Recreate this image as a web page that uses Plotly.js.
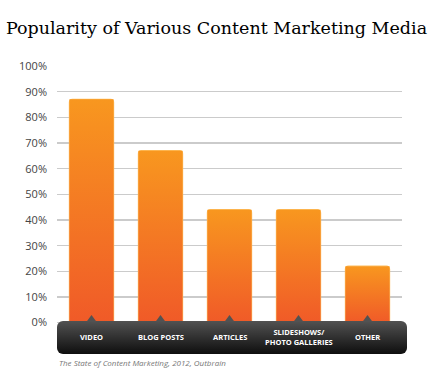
<!DOCTYPE html>
<html>
<head>
<meta charset="utf-8">
<script src="https://cdn.plot.ly/plotly-3.0.1.min.js"></script>
<style>html,body{margin:0;padding:0;background:#fff;}#chart{width:433px;height:381px;}</style>
</head>
<body>
<div id="chart"></div>
<script>
// ---- data ----
var categories = ['VIDEO', 'BLOG POSTS', 'ARTICLES', 'SLIDESHOWS/<br>PHOTO GALLERIES', 'OTHER'];
var popularity = [87, 67, 44, 44, 22];
var tickValues = [0, 10, 20, 30, 40, 50, 60, 70, 80, 90, 100];
var tickLabels = ['0%', '10%', '20%', '30%', '40%', '50%', '60%', '70%', '80%', '90%', '100%'];
var sourceText = 'The State of Content Marketing, 2012, Outbrain';
var titleText = 'Popularity of Various Content Marketing Media';

// ---- layout geometry ----
var W = 433, H = 381;
var M = {l: 57, r: 31, t: 66, b: 25};
var plotW = W - M.l - M.r, plotH = H - M.t - M.b;
function px2paperX(px) { return (px - M.l) / plotW; }
function px2paperY(py) { return (H - M.b - py) / plotH; }

var halfW = 0.32;
var idx = categories.map(function (c, i) { return i; });

var traces = [];
// gradient-filled bars
idx.forEach(function (i) {
  var v = popularity[i];
  traces.push({
    type: 'scatter', mode: 'lines',
    x: [i - halfW, i - halfW, i + halfW, i + halfW, i - halfW],
    y: [0, v, v, 0, 0],
    fill: 'toself',
    fillgradient: {type: 'vertical', colorscale: [[0, '#F05A28'], [1, '#F8971F']]},
    line: {width: 0, color: 'rgba(0,0,0,0)'},
    hoverinfo: 'skip', showlegend: false
  });
});
// outline with rounded corners
traces.push({
  type: 'bar', x: idx, y: popularity, width: halfW * 2,
  marker: {color: 'rgba(0,0,0,0)', cornerradius: 3, line: {color: '#FDBE5E', width: 1.2}},
  hoverinfo: 'skip', showlegend: false
});

// dark band as an SVG image
var bandSvg = '<svg xmlns="http://www.w3.org/2000/svg" width="350" height="33" viewBox="0 0 350 33">' +
  '<defs><linearGradient id="g" x1="0" y1="0" x2="0" y2="1">' +
  '<stop offset="0" stop-color="#525252"/><stop offset="0.5" stop-color="#303030"/><stop offset="1" stop-color="#0e0e0e"/>' +
  '</linearGradient></defs>' +
  '<rect x="0" y="0" width="350" height="33" rx="6" ry="6" fill="url(#g)"/></svg>';
var bandSrc = 'data:image/svg+xml;base64,' + btoa(bandSvg);

var shapes = idx.map(function (i) {
  return {
    type: 'path', xref: 'x', yref: 'y',
    path: 'M ' + (i - 0.075) + ',0.2 L ' + i + ',3 L ' + (i + 0.075) + ',0.2 Z',
    fillcolor: '#525252', line: {width: 0}, layer: 'above'
  };
});

var annotations = idx.map(function (i) {
  return {
    x: i, xref: 'x', y: px2paperY(336.5), yref: 'paper', yanchor: 'middle',
    text: categories[i], showarrow: false,
    font: {family: 'Open Sans', size: 7.5, color: '#ffffff', weight: 'bold'}
  };
});
annotations.push({
  x: 0, xref: 'paper', xanchor: 'left', y: px2paperY(362), yref: 'paper', yanchor: 'middle',
  text: '<i>' + sourceText + '</i>', showarrow: false,
  font: {family: 'Open Sans', size: 8, color: '#777777'}
});

var layout = {
  width: W, height: H,
  margin: M,
  paper_bgcolor: '#ffffff', plot_bgcolor: '#ffffff',
  title: {
    text: titleText, x: 0.5, xref: 'container', xanchor: 'center',
    y: 1 - 28 / H, yref: 'container', yanchor: 'middle',
    font: {family: 'DejaVu Serif', size: 17.5, color: '#000000'}
  },
  xaxis: {range: [-0.5, 4.5], visible: false, fixedrange: true},
  yaxis: {
    range: [-13, 100], tickmode: 'array', tickvals: tickValues, ticktext: tickLabels,
    showgrid: true, gridcolor: '#cbcbcb', gridwidth: 1.5, zeroline: false,
    showline: false, ticks: '', ticklabelstandoff: 9,
    tickfont: {family: 'Open Sans', size: 11, color: '#444444'}, fixedrange: true
  },
  images: [{
    source: bandSrc, xref: 'paper', yref: 'paper',
    x: px2paperX(57), y: px2paperY(321), sizex: px2paperX(407) - px2paperX(57),
    sizey: px2paperY(321) - px2paperY(354), xanchor: 'left', yanchor: 'top',
    sizing: 'stretch', layer: 'above'
  }],
  shapes: shapes,
  annotations: annotations,
  showlegend: false
};

Plotly.newPlot('chart', traces, layout, {staticPlot: true, displayModeBar: false});
</script>
</body>
</html>
